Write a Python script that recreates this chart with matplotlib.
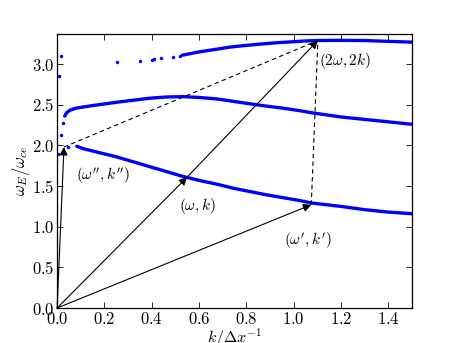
import matplotlib
matplotlib.use("Agg")
import matplotlib.pyplot as plt
from matplotlib.ticker import FuncFormatter

plt.rcParams["mathtext.fontset"] = "cm"
plt.rcParams["font.family"] = "serif"
plt.rcParams["font.serif"] = ["DejaVu Serif"]

# dispersion branches
low_dot_k = [0.048]
low_dot_w = [1.98]
low_k = [0.083, 0.11, 0.18, 0.25, 0.32, 0.39, 0.46, 0.53, 0.6, 0.68, 0.75, 0.82,
         0.88, 0.95, 1.02, 1.08, 1.14, 1.2, 1.3, 1.4, 1.5]
low_w = [1.99, 1.96, 1.91, 1.86, 1.80, 1.74, 1.68, 1.62, 1.57, 1.52, 1.47, 1.43,
         1.395, 1.36, 1.325, 1.29, 1.27, 1.25, 1.21, 1.18, 1.16]

mid_dot_k = [0.002, 0.016, 0.023]
mid_dot_w = [1.90, 2.13, 2.28]
mid_k = [0.032, 0.04, 0.05, 0.06, 0.083, 0.15, 0.25, 0.32, 0.39, 0.46, 0.53,
         0.6, 0.68, 0.75, 0.82, 0.88, 0.95, 1.02, 1.08, 1.2, 1.3, 1.4, 1.5]
mid_w = [2.36, 2.40, 2.425, 2.44, 2.46, 2.49, 2.53, 2.555, 2.58, 2.595, 2.60,
         2.59, 2.57, 2.54, 2.51, 2.485, 2.46, 2.43, 2.40, 2.35, 2.32, 2.29, 2.26]

up_dot_k = [0.006, 0.016, 0.253, 0.352, 0.40, 0.41, 0.44, 0.489, 0.518]
up_dot_w = [2.85, 3.10, 3.02, 3.04, 3.05, 3.06, 3.07, 3.09, 3.10]
up_k = [0.53, 0.6, 0.69, 0.733, 0.8, 0.874, 0.94, 1.0, 1.05, 1.103, 1.2,
        1.297, 1.4, 1.5]
up_w = [3.11, 3.15, 3.19, 3.21, 3.23, 3.25, 3.265, 3.275, 3.285, 3.29, 3.292,
        3.29, 3.28, 3.27]

# wave triad (k, omega)
k1, w1 = 0.55, 1.61      # (omega, k)
k2, w2 = 1.075, 1.27     # (omega', k')
k3, w3 = 0.029, 1.98     # (omega'', k'')
k4, w4 = 1.103, 3.29     # (2 omega, 2 k)

blue = "#0000ff"

fig = plt.figure(figsize=(4.57, 3.43), dpi=100)
ax = fig.add_axes([0.125, 0.102, 0.776, 0.8])

ax.plot(low_k, low_w, color=blue, lw=2.4, solid_capstyle="round")
ax.plot(mid_k, mid_w, color=blue, lw=2.4, solid_capstyle="round")
ax.plot(up_k, up_w, color=blue, lw=2.4, solid_capstyle="round")
ax.plot(low_dot_k + mid_dot_k + up_dot_k, low_dot_w + mid_dot_w + up_dot_w,
        ".", color=blue, ms=5, mew=0)

arrow = dict(arrowstyle="-|>", color="k", lw=0.8, shrinkA=0, shrinkB=0,
             mutation_scale=12)
ax.annotate("", xy=(k1, w1), xytext=(0, 0), arrowprops=arrow)
ax.annotate("", xy=(k2, w2), xytext=(0, 0), arrowprops=arrow)
ax.annotate("", xy=(k3, w3), xytext=(0, 0), arrowprops=arrow)
ax.annotate("", xy=(k4, w4), xytext=(k1, w1), arrowprops=arrow)
ax.plot([k3, k4], [w3, w4], "k--", lw=0.8, dashes=(4, 3))
ax.plot([k2, k4], [w2, w4], "k--", lw=0.8, dashes=(4, 3))

ax.text(0.195, 1.63, r"$(\omega'', k'')$", fontsize=11, ha="center", va="center")
ax.text(0.593, 1.26, r"$(\omega, k)$", fontsize=11, ha="center", va="center")
ax.text(1.06, 0.82, r"$(\omega', k')$", fontsize=11, ha="center", va="center")
ax.text(1.108, 3.04, r"$(2\omega, 2k)$", fontsize=11, ha="left", va="center")

ax.set_xlim(0, 1.5)
ax.set_ylim(0, 3.375)
ax.set_xticks([0.0, 0.2, 0.4, 0.6, 0.8, 1.0, 1.2, 1.4])
ax.set_yticks([0.0, 0.5, 1.0, 1.5, 2.0, 2.5, 3.0])
fmt = FuncFormatter(lambda v, p: r"$%.1f$" % v)
ax.xaxis.set_major_formatter(fmt)
ax.yaxis.set_major_formatter(fmt)
ax.tick_params(direction="in", top=True, right=True, length=4, width=0.6,
               labelsize=12, pad=2)
for s in ax.spines.values():
    s.set_linewidth(0.9)

ax.set_xlabel(r"$k/\Delta x^{-1}$", fontsize=11.5, labelpad=-1)
ax.set_ylabel(r"$\omega_E/\omega_{ce}$", fontsize=12, labelpad=0)

fig.savefig("out.png", dpi=100)
